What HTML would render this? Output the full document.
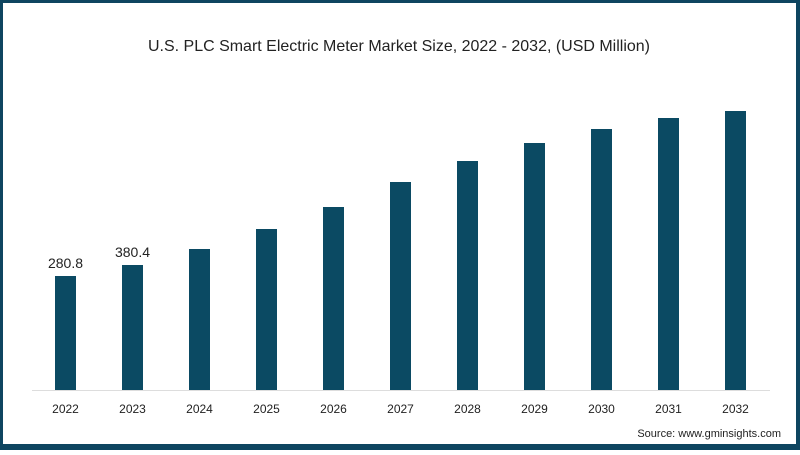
<!DOCTYPE html>
<html><head><style>
body{margin:0;width:800px;height:450px;overflow:hidden;font-family:"Liberation Sans",sans-serif}
</style></head><body>
<svg width="800" height="450" xmlns="http://www.w3.org/2000/svg">
<rect x="0" y="0" width="800" height="450" fill="#0e4560"/>
<rect x="3" y="3" width="793" height="441" fill="#fff"/>
<text x="399" y="51" text-anchor="middle" font-size="16" fill="#222" textLength="502" lengthAdjust="spacingAndGlyphs">U.S. PLC Smart Electric Meter Market Size, 2022 - 2032, (USD Million)</text>
<line x1="32" y1="390.5" x2="770" y2="390.5" stroke="#ddd" stroke-width="1"/>
<g fill="#0b4a63">
<rect x="55" y="276" width="21" height="114"/>
<rect x="122" y="265" width="21" height="125"/>
<rect x="189" y="249" width="21" height="141"/>
<rect x="256" y="229" width="21" height="161"/>
<rect x="323" y="207" width="21" height="183"/>
<rect x="390" y="182" width="21" height="208"/>
<rect x="457" y="161" width="21" height="229"/>
<rect x="524" y="143" width="21" height="247"/>
<rect x="591" y="129" width="21" height="261"/>
<rect x="658" y="118" width="21" height="272"/>
<rect x="725" y="111" width="21" height="279"/>
</g>
<g font-size="14" fill="#222" text-anchor="middle">
<text x="65.5" y="268">280.8</text>
<text x="132.5" y="257">380.4</text>
</g>
<g font-size="12" fill="#222" text-anchor="middle">
<text x="65.5" y="413">2022</text><text x="132.5" y="413">2023</text><text x="199.5" y="413">2024</text>
<text x="266.5" y="413">2025</text><text x="333.5" y="413">2026</text><text x="400.5" y="413">2027</text>
<text x="467.5" y="413">2028</text><text x="534.5" y="413">2029</text><text x="601.5" y="413">2030</text>
<text x="668.5" y="413">2031</text><text x="735.5" y="413">2032</text>
</g>
<text x="781" y="437" text-anchor="end" font-size="11" fill="#222">Source: www.gminsights.com</text>
</svg>
</body></html>
